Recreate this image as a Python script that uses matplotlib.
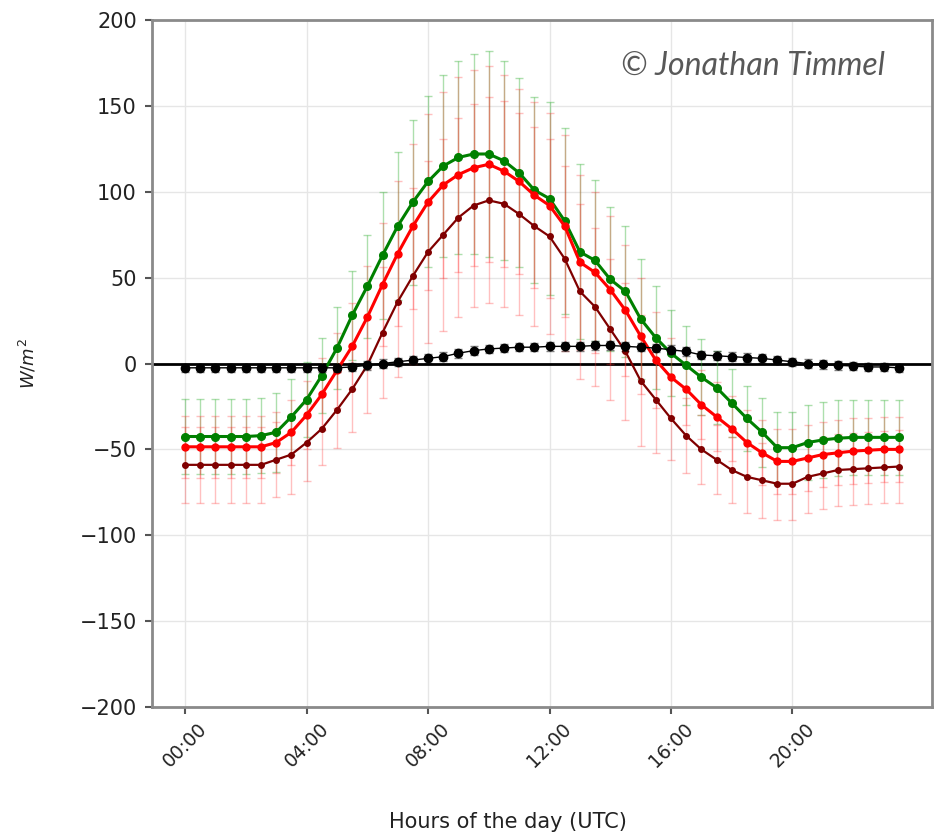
import numpy as np
import matplotlib
matplotlib.use('Agg')
import matplotlib.pyplot as plt
from matplotlib.colors import to_rgba

# half-hourly time steps (hours of the day, UTC)
hours = np.arange(0, 24, 0.5)
tick_hours = [0, 4, 8, 12, 16, 20]
tick_labels = ['00:00', '04:00', '08:00', '12:00', '16:00', '20:00']

# mean fluxes (W/m2) and their spread
green_mean = [-42.5, -42.5, -42.5, -42.5, -42.5, -42, -40, -31, -21, -7, 9, 28,
              45, 63, 80, 94, 106, 115, 120, 122, 122, 118, 111, 101,
              96, 83, 65, 60, 49, 42, 26, 15, 6, -1, -8, -14,
              -23, -32, -40, -49, -49, -46, -44.5, -43.5, -43, -43, -43, -43]
green_err = [22, 22, 22, 22, 22, 22, 23, 22, 22, 22, 24, 26,
             30, 37, 43, 48, 50, 53, 56, 58, 60, 58, 55, 54,
             56, 54, 51, 47, 42, 38, 35, 30, 25, 23, 22, 21,
             20, 19, 20, 21, 21, 22, 22, 22, 22, 22, 22, 22]

red_mean = [-48.5, -48.5, -48.5, -48.5, -48.5, -48.5, -46, -40, -30, -18, -4, 10,
            27, 46, 64, 80, 94, 104, 110, 114, 116, 112, 106, 98,
            92, 80, 59, 53, 43, 31, 16, 2, -8, -15, -24, -31,
            -38, -46, -52, -57, -57, -55, -53, -52, -51, -50.5, -50, -50]
red_err = [18, 18, 18, 18, 18, 18, 18, 19, 20, 21, 22, 25,
           30, 36, 42, 48, 51, 54, 57, 57, 57, 56, 54, 54,
           54, 53, 51, 47, 43, 38, 34, 28, 23, 21, 20, 20,
           19, 19, 19, 19, 19, 19, 19, 19, 19, 19, 19, 19]

dark_mean = [-59, -59, -59, -59, -59, -59, -56, -53, -46, -38, -27, -15,
             -1, 18, 36, 51, 65, 75, 85, 92, 95, 93, 87, 80,
             74, 61, 42, 33, 20, 7, -10, -21, -32, -42, -50, -56,
             -62, -66, -68, -70, -70, -66, -64, -62, -61.5, -61, -60.5, -60]
dark_err = [22, 22, 22, 22, 22, 22, 22, 23, 22.5, 21, 22, 25,
            28, 38, 44, 51, 53, 56, 58, 59, 60, 60, 59, 58,
            57, 54, 51, 46, 41, 40, 38, 31, 24, 22, 20, 20,
            19, 21, 22, 21, 21, 21, 21, 21, 21, 21, 21, 21]

black_mean = [-2.5, -2.5, -2.5, -2.5, -2.5, -2.5, -2.5, -2.5, -2.5, -2.5, -2.5, -2,
              -1, 0, 1, 2, 3, 4, 6, 7.5, 8.5, 9, 9.5, 9.5,
              10, 10, 10, 10.5, 10.5, 10, 9.5, 9, 8, 7, 5, 4.5,
              4, 3.5, 3, 2, 1, 0, -0.5, -1, -1.5, -2, -2, -2.5]
black_err = [2.5] * 48

fig = plt.figure(figsize=(9.35, 8.35), dpi=100)
ax = fig.add_axes([0.1626, 0.1533, 0.834, 0.8227])

# (mean, spread, line colour, errorbar colour, line width, marker size)
series = [
    (green_mean, green_err, 'green', to_rgba('#33b033', 0.4), 2.2, 5.5),
    (red_mean, red_err, 'red', to_rgba('#ff3030', 0.3), 2.2, 5.0),
    (dark_mean, dark_err, '#800000', to_rgba('#ff3030', 0.3), 1.6, 4.0),
]
for mean, err, col, ecol, lw, ms in series:
    ax.errorbar(hours, mean, yerr=err, color=col, ecolor=ecol,
                elinewidth=1.0, capsize=3, marker='o', markersize=ms,
                linewidth=lw, zorder=3)

ax.errorbar(hours, black_mean, yerr=black_err, color='black',
            ecolor=to_rgba('black', 0.5), elinewidth=1.0, capsize=3,
            marker='o', markersize=6, linewidth=1.0, zorder=4)
ax.axhline(0, color='black', linewidth=2.0, zorder=2)

ax.set_xlim(-1.09, 24.59)
ax.set_ylim(-200, 200)
ax.set_yticks(np.arange(-200, 201, 50))
ax.set_xticks(tick_hours)
ax.set_xticklabels(tick_labels, rotation=45)
ax.tick_params(axis='both', colors='#555555', labelcolor='#222222',
               length=5, width=1.5)
ax.tick_params(axis='x', labelsize=13.5)
ax.tick_params(axis='y', labelsize=15, pad=6)
ax.grid(True, color='#e6e6e6', linewidth=1.0, zorder=0)
ax.set_axisbelow(True)
for sp in ax.spines.values():
    sp.set_color('#8a8a8a')
    sp.set_linewidth(2.0)

ax.set_ylabel('$W/m^2$', fontsize=13, color='#222222')
ax.yaxis.set_label_coords(-0.145, 0.5)
ax.set_xlabel('Hours of the day (UTC)', fontsize=15, color='#222222')
ax.xaxis.set_label_coords(0.457, -0.153)

ax.text(0.94, 0.955, '\u00a9 Jonathan Timmel', transform=ax.transAxes,
        ha='right', va='top', fontsize=23, fontstyle='italic',
        family=['Lato', 'DejaVu Sans'], color='#585858')

fig.savefig('out.png', dpi=100)
